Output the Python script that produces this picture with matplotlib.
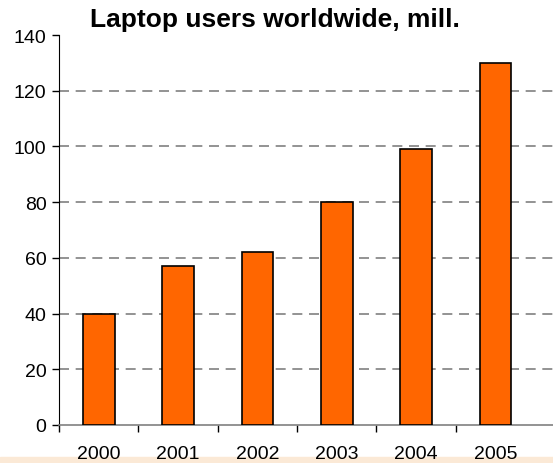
import matplotlib
matplotlib.use('Agg')
import numpy as np
import matplotlib.pyplot as plt
from matplotlib.patches import Rectangle

years = ['2000', '2001', '2002', '2003', '2004', '2005']
users = [40, 57, 62, 80, 99, 130]
y_ticks = [0, 20, 40, 60, 80, 100, 120, 140]

plt.rcParams['font.family'] = ['Liberation Sans', 'DejaVu Sans']

fig = plt.figure(figsize=(5.53, 4.64), dpi=100)

# faint band at the bottom of the slide
fig.patches.append(Rectangle((0, 0), 1, 6 / 464, transform=fig.transFigure,
                             color='#FBE9D6', zorder=-1))

ax = fig.add_axes([0.1067, 0.0819, 0.8933, 0.8405])
ax.patch.set_alpha(0)

x = np.arange(len(years))
ax.bar(x, users, width=0.40, color='#FF6600', edgecolor='black', linewidth=1.2, zorder=3)

ax.set_xlim(-0.5, 5.725)
ax.set_ylim(0, 140)
ax.set_yticks(y_ticks)
ax.set_yticklabels([str(v) for v in y_ticks], fontsize=14)
for v in y_ticks[1:-1]:
    ax.axhline(v, color='#808080', linestyle=(0, (6, 4)), linewidth=1.2, zorder=1)

ax.set_xticks(x)
ax.set_xticklabels(years, fontsize=14)
ax.set_xticks(np.arange(-0.5, 5.0, 1.0), minor=True)
ax.tick_params(axis='x', which='major', length=0, pad=14.5)
ax.tick_params(axis='x', which='minor', length=5, color='black', width=1)
ax.tick_params(axis='y', length=5, color='black', width=1, pad=4)

ax.spines['top'].set_visible(False)
ax.spines['right'].set_visible(False)
ax.spines['left'].set_color('black')
ax.spines['bottom'].set_color('#808080')
ax.spines['bottom'].set_linewidth(1.2)

fig.text(0.497, 0.957, 'Laptop users worldwide, mill.', ha='center', va='center',
         fontsize=19, fontweight='bold')

fig.savefig('out.png', dpi=100)
